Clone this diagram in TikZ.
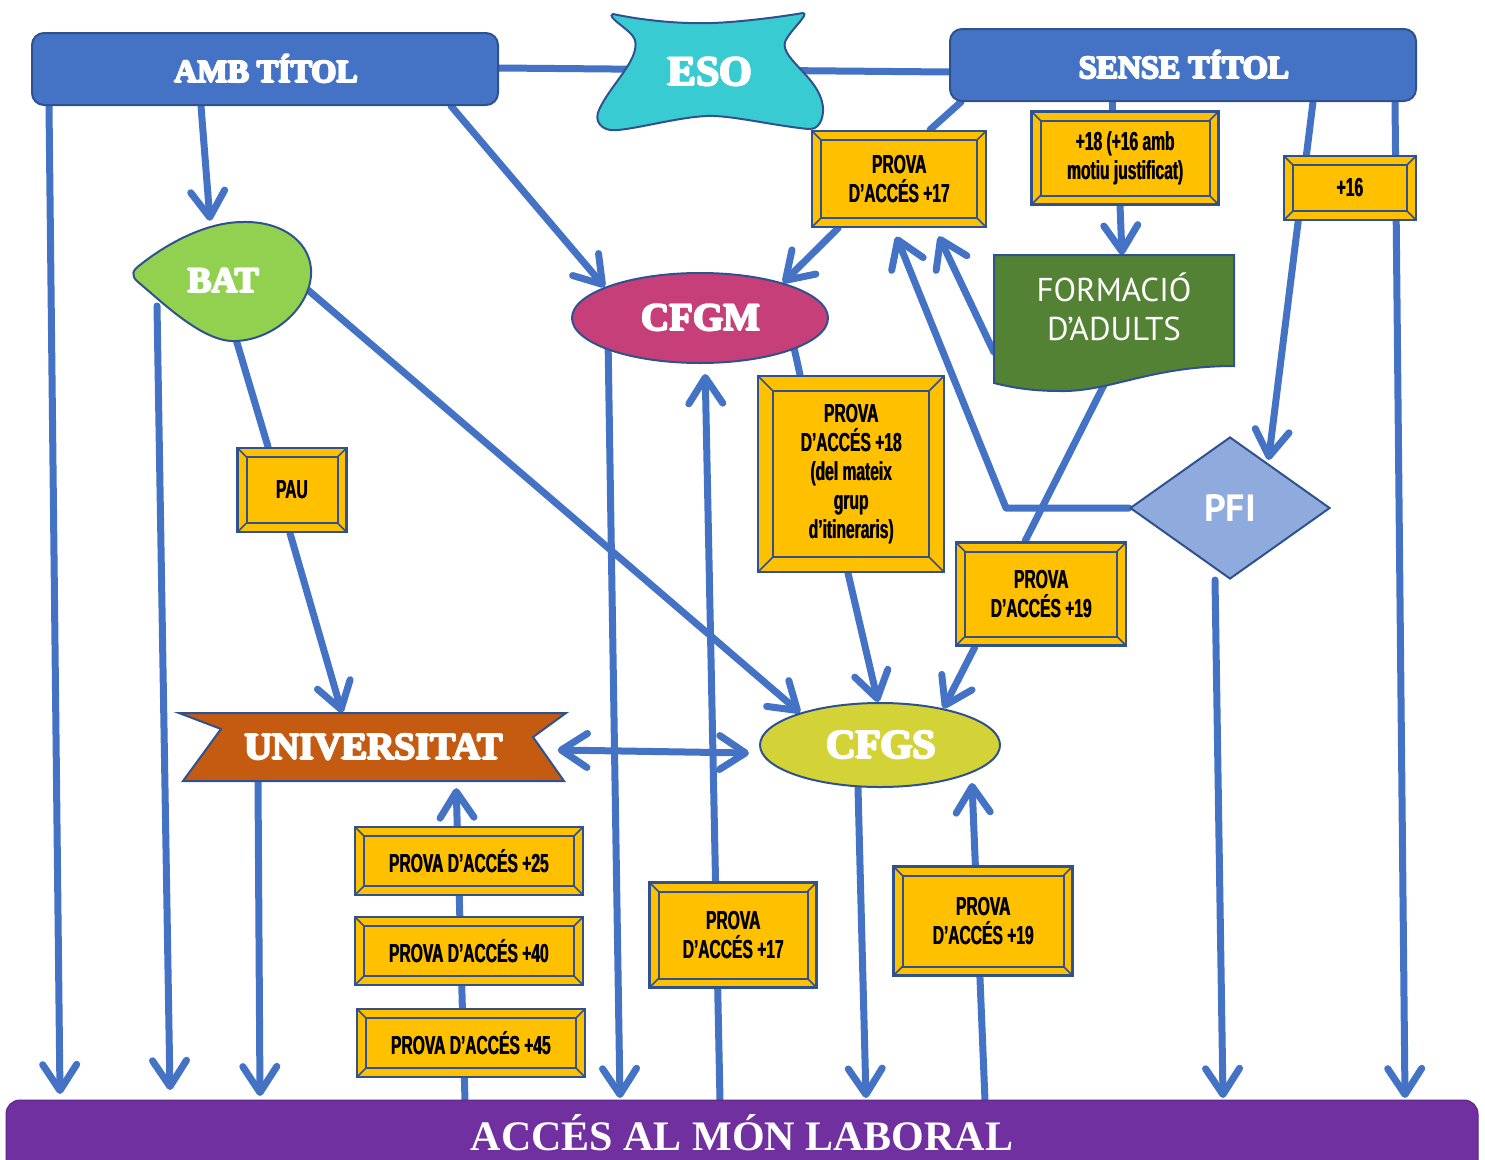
\documentclass[tikz,border=0pt]{standalone}
\usepackage{fontspec}
\setmainfont{Liberation Serif}
\newfontfamily\heavyfont{Liberation Serif}
\newfontfamily\agency{Liberation Sans}[FakeStretch=0.6]
\newfontfamily\dinfont{PT Sans}
\usetikzlibrary{shapes.geometric,arrows.meta,backgrounds}
% thicker strokes by overprinting shifted copies
\newcommand\fath[1]{{\setbox0\hbox{#1}\rlap{\hskip2.2pt\copy0}\rlap{\hskip1.1pt\raise0.9pt\copy0}\rlap{\hskip1.1pt\lower0.9pt\copy0}\rlap{\hskip0.5pt\raise0.6pt\copy0}\rlap{\hskip1.7pt\lower0.6pt\copy0}\copy0\hskip2.2pt}}
\newcommand\fatb[1]{{\setbox0\hbox{#1}\rlap{\hskip0.6pt\copy0}\copy0\hskip0.6pt}}
\definecolor{lineblue}{HTML}{4472C4}
\definecolor{darkblue}{HTML}{2F528F}
\definecolor{gold}{HTML}{FFC000}
\definecolor{esocol}{HTML}{38CBD2}
\definecolor{batcol}{HTML}{92D050}
\definecolor{cfgmcol}{HTML}{C63F78}
\definecolor{cfgscol}{HTML}{D3D236}
\definecolor{univcol}{HTML}{C55A11}
\definecolor{facol}{HTML}{548235}
\definecolor{pficol}{HTML}{8FAADC}
\definecolor{labcol}{HTML}{7030A0}
\def\bevd{9pt}
\tikzset{
  conn/.style={line width=7pt, draw=lineblue, line cap=round, line join=round},
  arr/.style={conn, -{Straight Barb[length=26pt,width=34pt,round]}},
  darr/.style={conn, {Straight Barb[length=26pt,width=34pt,round]}-{Straight Barb[length=26pt,width=34pt,round]}},
  shapeline/.style={draw=darkblue, line width=2pt},
  heavy/.style={text=white, font=\heavyfont\bfseries\fontsize{#1}{#1}\selectfont},
  topbar/.style={shapeline, fill=lineblue, rounded corners=12pt, minimum width=466pt, minimum height=72pt, inner sep=0pt, heavy=32},
  bev/.style={draw=darkblue, line width=2.5pt, fill=gold, inner sep=0pt, align=center, text=black,
    font=\agency\bfseries\fontsize{26}{29}\selectfont,
    path picture={
      \coordinate (PA) at (path picture bounding box.north west);
      \coordinate (PB) at (path picture bounding box.south east);
      \draw[darkblue, line width=2pt] ([shift={(\bevd,-\bevd)}]PA) rectangle ([shift={(-\bevd,\bevd)}]PB);
      \draw[darkblue, line width=1.5pt] (PA) -- ++(\bevd,-\bevd);
      \draw[darkblue, line width=1.5pt] (PB) -- ++(-\bevd,\bevd);
      \draw[darkblue, line width=1.5pt] (PA |- PB) -- ++(\bevd,\bevd);
      \draw[darkblue, line width=1.5pt] (PB |- PA) -- ++(-\bevd,-\bevd);
    }},
}
\begin{document}
\begin{tikzpicture}[x=1pt,y=-1pt]
\useasboundingbox (0,0) rectangle (1485,1159);
\clip (0,0) rectangle (1485,1159);

% ---- shapes drawn directly
\draw[shapeline, fill=esocol]
 (613,14) .. controls (650,22) and (690,24) .. (713,23)
 .. controls (740,22) and (780,17) .. (803,13)
 .. controls (810,14) and (790,30) .. (785,42)
 .. controls (780,60) and (825,80) .. (823,112)
 .. controls (822,125) and (815,130) .. (808,129)
 .. controls (770,125) and (730,115) .. (707,116)
 .. controls (680,117) and (640,128) .. (618,130)
 .. controls (600,132) and (594,120) .. (599,110)
 .. controls (610,85) and (640,60) .. (635,40)
 .. controls (632,30) and (605,17) .. (613,14) -- cycle;
\draw[shapeline, fill=batcol]
 (243,222) .. controls (285,221) and (313,245) .. (311,275)
 .. controls (309,310) and (270,342) .. (232,341)
 .. controls (200,340) and (160,300) .. (138,282)
 .. controls (130,275) and (133,270) .. (140,265)
 .. controls (165,245) and (205,222) .. (243,222) -- cycle;
\draw[shapeline, fill=univcol]
 (179,713) -- (566,713) -- (533,737) -- (564,781) -- (183,781) -- (221,729) -- cycle;
\draw[shapeline, fill=facol]
 (994,255) -- (1234,255) -- (1234,366)
 .. controls (1150,366) and (1110,392) .. (1060,391)
 .. controls (1030,391) and (1010,387) .. (994,383) -- cycle;

% ---- nodes
\node[topbar] (amb) at (265,69) {\fath{AMB TÍTOL}};
\node[topbar] (sense) at (1183,65) {\fath{SENSE TÍTOL}};
\node[heavy=42] (eso) at (709,72) {\fath{ESO}};
\node[ellipse, minimum width=179pt, minimum height=120pt, inner sep=0pt, heavy=36] (bat) at (222,281) {\fath{BAT}};
\node[minimum width=385pt, minimum height=68pt, inner sep=0pt, heavy=38] (univ) at (373,747) {\fath{UNIVERSITAT}};
\node[ellipse, shapeline, fill=cfgmcol, minimum width=256pt, minimum height=90pt, inner sep=0pt, heavy=39] (cfgm) at (700,318) {\fath{CFGM}};
\node[ellipse, shapeline, fill=cfgscol, minimum width=240pt, minimum height=84pt, inner sep=0pt, heavy=41] (cfgs) at (880,745) {\fath{CFGS}};
\node[diamond, shapeline, fill=pficol, minimum width=200pt, minimum height=142pt, inner sep=0pt, text=white, font=\dinfont\bfseries\fontsize{38}{38}\selectfont] (pfi) at (1230,508) {PFI};
\node[minimum width=240pt, minimum height=104pt, inner sep=0pt, align=center, text=white, font=\dinfont\fontsize{33}{39}\selectfont] (fa) at (1114,307) {FORMACIÓ\\D’ADULTS};

\node[bev, minimum width=174pt, minimum height=96pt] (p17a) at (899,179) {\fatb{PROVA}\\\fatb{D’ACCÉS +17}};
\node[bev, minimum width=187pt, minimum height=93pt] (p18j) at (1125,158) {\fatb{+18 (+16 amb}\\\fatb{motiu justificat)}};
\node[bev, minimum width=132pt, minimum height=64pt] (p16) at (1350,188) {\fatb{+16}};
\node[bev, minimum width=109pt, minimum height=84pt] (pau) at (292,490) {\fatb{PAU}};
\node[bev, minimum width=186pt, minimum height=196pt, /utils/exec={\def\bevd{15pt}}] (p18g) at (851,474) {\fatb{PROVA}\\\fatb{D’ACCÉS +18}\\\fatb{(del mateix}\\\fatb{grup}\\\fatb{d’itineraris)}};
\node[bev, minimum width=170pt, minimum height=103pt] (p19a) at (1041,594) {\fatb{PROVA}\\\fatb{D’ACCÉS +19}};
\node[bev, minimum width=228pt, minimum height=68pt] (p25) at (469,861) {\fatb{PROVA D’ACCÉS +25}};
\node[bev, minimum width=228pt, minimum height=68pt] (p40) at (469,951) {\fatb{PROVA D’ACCÉS +40}};
\node[bev, minimum width=228pt, minimum height=68pt] (p45) at (471,1043) {\fatb{PROVA D’ACCÉS +45}};
\node[bev, minimum width=167pt, minimum height=105pt] (p17b) at (733,935) {\fatb{PROVA}\\\fatb{D’ACCÉS +17}};
\node[bev, minimum width=179pt, minimum height=109pt] (p19b) at (983,921) {\fatb{PROVA}\\\fatb{D’ACCÉS +19}};

\node[fill=labcol, draw=labcol!80!black, line width=1pt, rounded corners=14pt, minimum width=1472pt, minimum height=80pt, inner sep=0pt] (lab) at (742,1140) {};
\node[anchor=base, inner sep=0pt, text=white, font=\bfseries\fontsize{42}{42}\selectfont] (labtext) at (742,1150) {ACCÉS AL MÓN LABORAL};

% ---- free ends
\coordinate (e1) at (60,1094);
\coordinate (e2) at (170,1090);
\coordinate (e3) at (260,1096);
\coordinate (e4) at (620,1098);
\coordinate (e5) at (866,1098);
\coordinate (e6) at (1223,1098);
\coordinate (e7) at (1405,1098);
\coordinate (b1) at (465,1101);
\coordinate (b2) at (720,1101);
\coordinate (b3) at (985,1101);

% ---- connectors
\begin{pgfonlayer}{background}
\draw[conn] ([yshift=1pt]amb.east) -- ([yshift=-7pt]sense.west);
\draw[arr] ([xshift=18pt]amb.south west) -- (e1);
\draw[arr] ([xshift=170pt]amb.south west) -- ([xshift=-12pt]bat.north);
\draw[arr] ([xshift=420pt]amb.south west) -- (cfgm.162);
\draw[arr] ([shift={(-65pt,-25pt)}]bat.center) -- (e2);
\draw[conn] ([shift={(13pt,-55pt)}]bat.center) -- ([xshift=-24pt]pau.north);
\draw[arr] ([xshift=-2pt]pau.south) -- ([xshift=-31pt]univ.north);
\draw[arr] ([shift={(86pt,-9pt)}]bat.center) -- (cfgs.158);
\draw[arr] ([xshift=-115pt]univ.south) -- (e3);
\draw[darr] ([shift={(-8pt,-3pt)}]univ.east) -- ([shift={(-10pt,-8pt)}]cfgs.west);
\draw[arr, shorten >=7pt] (b1) -- ([xshift=83pt]univ.south);
\draw[arr] ([shift={(-92pt,-20pt)}]cfgm.center) -- (e4);
\draw[arr, shorten >=10pt] (b2) -- ([xshift=5pt]cfgm.south);
\draw[conn] ([shift={(93pt,-25pt)}]cfgm.center) -- ([xshift=-51pt]p18g.north);
\draw[arr] ([xshift=-3pt]p18g.south) -- ([xshift=-2pt]cfgs.north);
\draw[conn] ([xshift=12pt]sense.south west) -- ([xshift=31pt]p17a.north);
\draw[arr] ([xshift=-61pt]p17a.south) -- (cfgm.23);
\draw[conn] ([xshift=-71pt]sense.south) -- ([xshift=-13pt]p18j.north);
\draw[arr] ([xshift=-5pt]p18j.south) -- ([xshift=8pt]fa.north);
\draw[arr, shorten >=9pt] ([yshift=-45pt]fa.west) -- ([xshift=36pt]p17a.south);
\draw[arr, shorten >=9pt] (pfi.west) -- ([xshift=-123pt]pfi.west) -- ([xshift=-6pt]p17a.south);
\draw[conn] ([shift={(-6pt,-70pt)}]fa.center) -- ([xshift=-16pt]p19a.north);
\draw[arr] ([xshift=-66pt]p19a.south) -- (cfgs.30);
\draw[arr] ([xshift=130pt]sense.south) -- ([shift={(-12pt,12pt)}]pfi.north east);
\draw[arr] ([xshift=212pt]sense.south) -- (e7);
\draw[arr] ([xshift=-15pt]pfi.south) -- (e6);
\draw[arr] ([xshift=-22pt]cfgs.south) -- (e5);
\draw[arr] (b3) -- ([shift={(92pt,-38pt)}]cfgs.center);
\end{pgfonlayer}
\end{tikzpicture}
\end{document}
